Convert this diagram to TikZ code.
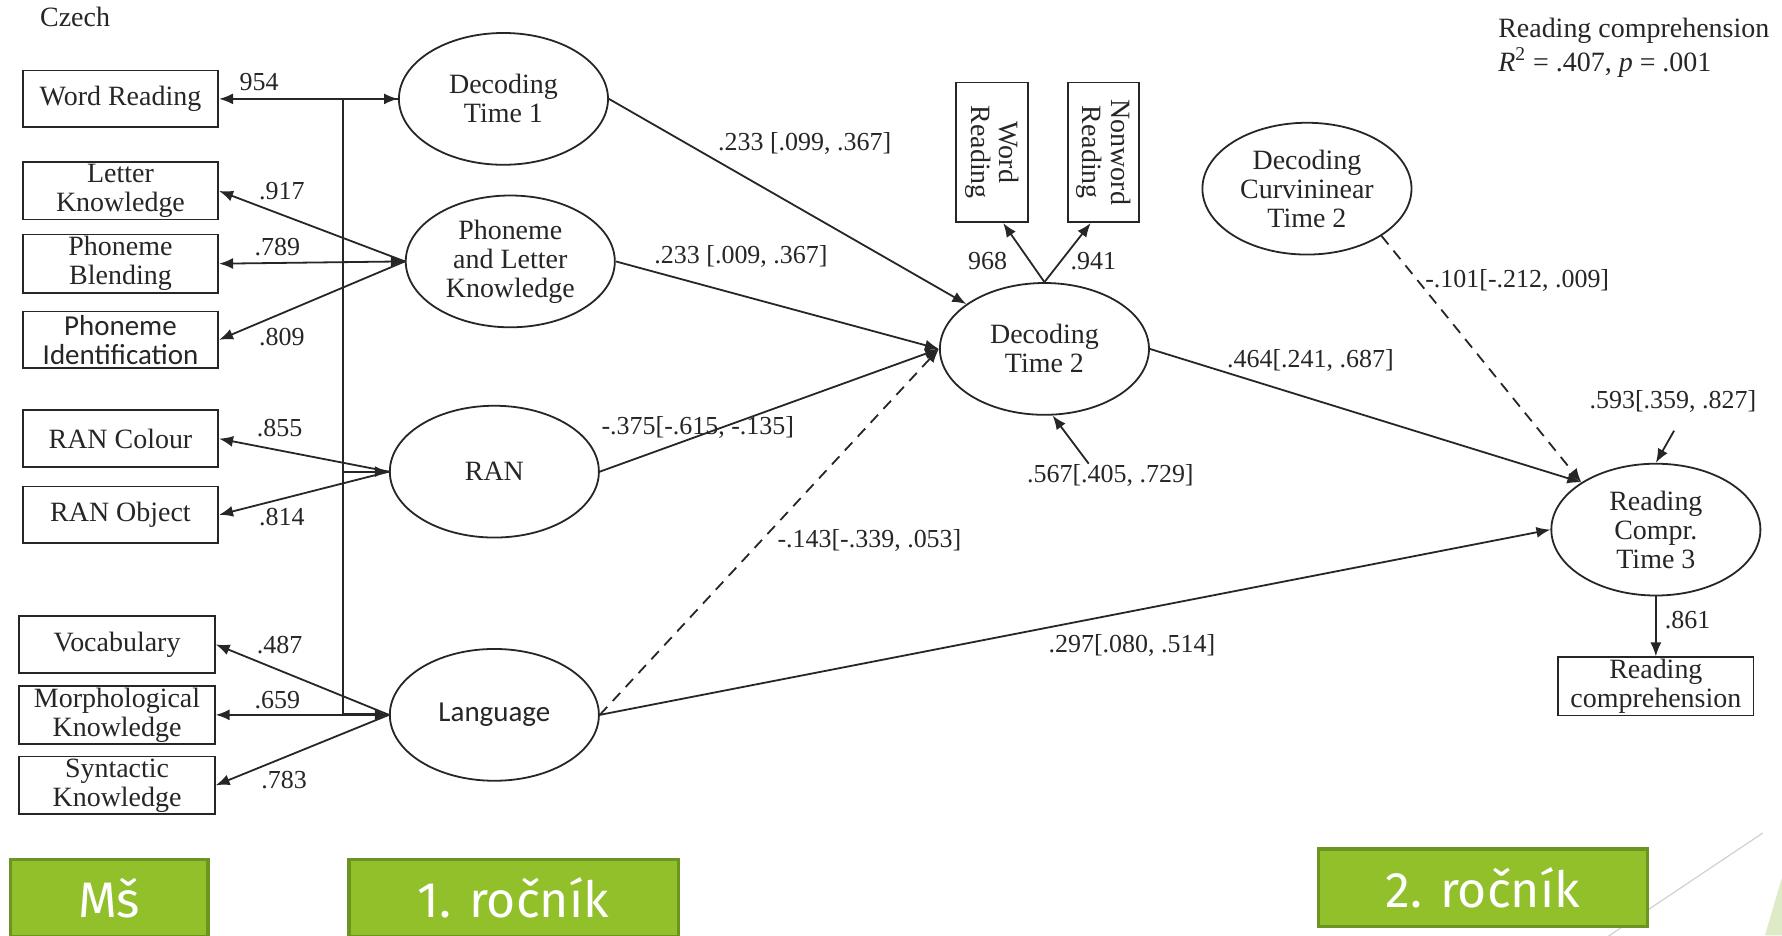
\documentclass[tikz,border=0pt]{standalone}
\usepackage{fontspec}
\setmainfont{Liberation Serif}
\newfontfamily\calfont{Carlito}
\newfontfamily\slidefont{Fira Sans}
\usetikzlibrary{arrows.meta,shapes.geometric,calc}
\definecolor{ink}{HTML}{262626}
\definecolor{slidegreen}{HTML}{92C02A}
\definecolor{slideedge}{HTML}{6B9420}
\definecolor{paleleaf}{HTML}{DDEBC6}

\begin{document}
\begin{tikzpicture}[x=0.02cm,y=-0.02cm,
    every node/.style={text=ink,font=\fontsize{14}{14.5}\selectfont},
    lat/.style={draw=ink,ellipse,line width=0.9pt,minimum width=3.68cm,
      minimum height=2.32cm,align=center,inner sep=0pt},
    obs/.style={draw=ink,rectangle,line width=0.9pt,minimum width=3.44cm,
      minimum height=1cm,align=center,inner sep=1pt},
    vobs/.style={obs,rotate=-90,minimum width=2.46cm,minimum height=1.26cm},
    lbl/.style={inner sep=0pt,font=\fontsize{13}{13}\selectfont},
    path/.style={draw=ink,line width=0.9pt,-{Latex[length=7pt,width=5.5pt]}},
    ns/.style={path,dash pattern=on 5.5pt off 4pt},
    slide/.style={fill=slidegreen,draw=slideedge,line width=1.6pt,
      minimum height=1.36cm,text=white,font=\slidefont\fontsize{25}{25}\selectfont}]
  \path[use as bounding box] (0,0) rectangle (1568,823);
  \clip (0,0) rectangle (1568,823);
  \fill[white] (0,0) rectangle (1568,823);

  % slide decoration
  \draw[black!18,line width=0.6pt] (1551,733) -- (1400,834);
  \fill[paleleaf] (1568,772) -- (1553,823) -- (1568,823) -- cycle;

  % indicators, kindergarten
  \node[obs] (wr) at (106,87) {Word Reading};
  \node[obs] (lk) at (106,168) {Letter\\Knowledge};
  \node[obs] (pb) at (106,232) {Phoneme\\Blending};
  \node[obs,font=\calfont\fontsize{14.5}{14.5}\selectfont] (pid) at (106,299) {Phoneme\\Identification};
  \node[obs] (rco) at (106,386) {RAN Colour};
  \node[obs] (rob) at (106,453) {RAN Object};
  \node[obs] (voc) at (103,567) {Vocabulary};
  \node[obs] (mk) at (103,629) {Morphological\\Knowledge};
  \node[obs] (sk) at (103,691) {Syntactic\\Knowledge};

  % latent variables
  \node[lat] (dt1) at (443,87) {Decoding\\Time 1};
  \node[lat] (plk) at (449,230) {Phoneme\\and Letter\\Knowledge};
  \node[lat] (ran) at (435,415) {RAN};
  \node[lat,font=\calfont\fontsize{14.5}{14.5}\selectfont] (lang) at (435,629) {Language};
  \node[lat] (dt2) at (919,307) {Decoding\\Time 2};
  \node[lat] (dct2) at (1150,166) {Decoding\\Curvininear\\Time 2};
  \node[lat] (rct3) at (1457,466) {Reading\\Compr.\\Time 3};

  \node[vobs] (wrd) at (873,134) {Word\\Reading};
  \node[vobs] (nwr) at (971,134) {Nonword\\Reading};
  \node[obs] (rc) at (1457,604) {Reading\\comprehension};

  % texts
  \node[anchor=west,inner sep=0pt] (czech) at (35,15) {Czech};
  \node[anchor=west,inner sep=0pt] (rch) at (1318,27) {Reading comprehension};
  \node[anchor=west,inner sep=0pt] (rsq) at (1318,55) {\textit{R}\textsuperscript{2} = .407, \textit{p} = .001};

  % bar joining the first-grade factors
  \coordinate (bt) at (302,87);
  \coordinate (bb) at (302,629);
  \draw[ink,line width=0.9pt] (bt) -- (bb);
  \draw[path] (bt) -- (dt1);
  \draw[path] (bt |- plk) -- (plk);
  \draw[path] (bt |- ran) -- (ran);
  \draw[path,line width=1.4pt] (bb) -- (lang);

  % loadings
  \draw[path] (dt1) -- (wr);
  \draw[path] (plk.west) -- (lk.east);
  \draw[path] (plk.west) -- (pb.east);
  \draw[path] (plk.west) -- (pid.east);
  \draw[path] (ran.west) -- (rco.east);
  \draw[path] (ran.west) -- (rob.east);
  \draw[path] (lang.west) -- (voc.east);
  \draw[path] (lang.west) -- (mk.east);
  \draw[path] (lang.west) -- (sk.east);
  \draw[path] (dt2.north) -- ($(wrd.east)!0.3!(wrd.north east)$);
  \draw[path] (dt2.north) -- ($(nwr.east)!0.35!(nwr.south east)$);
  \draw[path] (rct3) -- (rc);

  % structural paths
  \draw[path] (dt1.east) -- (dt2);
  \draw[path] (plk.east) -- (dt2.west);
  \draw[path] (ran.east) -- (dt2.west);
  \draw[ns] (lang.east) -- (dt2.west);
  \draw[path] (dt2.east) -- (rct3.north west);
  \draw[ns] (dct2.south east) -- (rct3.north west);
  \draw[path] (lang.east) -- (rct3.west);

  % residuals
  \coordinate (e2) at (958,408);
  \coordinate (e3) at (1473,379);
  \draw[path] (e2) -- (dt2.-83);
  \draw[path] (e3) -- (rct3.north);

  % labels
  \node[lbl] (l1) at (228,72) {954};
  \node[lbl] (l2) at (248,168) {.917};
  \node[lbl] (l3) at (244,217) {.789};
  \node[lbl] (l4) at (248,297) {.809};
  \node[lbl] (l5) at (246,377) {.855};
  \node[lbl] (l6) at (248,455) {.814};
  \node[lbl] (l7) at (246,568) {.487};
  \node[lbl] (l8) at (244,616) {.659};
  \node[lbl] (l9) at (250,686) {.783};
  \node[lbl] (l10) at (708,126) {.233 [.099, .367]};
  \node[lbl] (l11) at (652,226) {.233 [.009, .367]};
  \node[lbl] (l12) at (614,376) {-.375[-.615, -.135]};
  \node[lbl] (l13) at (765,476) {-.143[-.339, .053]};
  \node[lbl] (l14) at (869,230) {968};
  \node[lbl] (l15) at (962,230) {.941};
  \node[lbl] (l16) at (977,418) {.567[.405, .729]};
  \node[lbl] (l17) at (1153,317) {.464[.241, .687]};
  \node[lbl] (l18) at (1335,247) {-.101[-.212, .009]};
  \node[lbl] (l19) at (996,568) {.297[.080, .514]};
  \node[lbl] (l20) at (1472,353) {.593[.359, .827]};
  \node[lbl] (l21) at (1485,546) {.861};

  % grades
  \node[slide,minimum width=3.48cm] (ms) at (96,790) {Mš};
  \node[slide,minimum width=5.8cm] (g1) at (452,790) {1. ročník};
  \node[slide,minimum width=5.8cm] (g2) at (1305,781) {2. ročník};
\end{tikzpicture}
\end{document}
